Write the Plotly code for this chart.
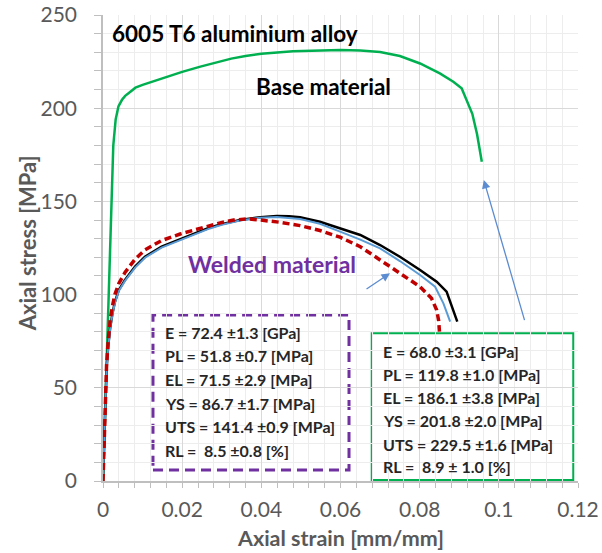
import plotly.graph_objects as go

# ---- data ----
base_strain = [0, 0.0005, 0.0010, 0.0014, 0.0018, 0.0022, 0.0026, 0.0032, 0.0039, 0.0048, 0.0056,
               0.0070, 0.0082, 0.0100, 0.0124, 0.0158, 0.0200, 0.0246, 0.0290, 0.0324, 0.0360,
               0.0400, 0.0480, 0.0540, 0.0600, 0.0650, 0.0700, 0.0750, 0.0801, 0.0851, 0.0885,
               0.0906, 0.0919, 0.0933, 0.0945, 0.0957]
base_stress = [0, 34, 68, 95, 128, 157, 180, 194, 201, 204.5, 206.6,
               209, 211, 212.5, 214.2, 216.5, 219.5, 222.3, 224.8, 226.6, 228,
               229.2, 230.6, 231.1, 231.2, 231, 230.2, 228, 224, 218.7, 214.2,
               210.7, 204.4, 197, 186, 171.3]

weld1_strain = [0, 0.0003, 0.0006, 0.0009, 0.0013, 0.0018, 0.0024, 0.0030, 0.0040, 0.0056, 0.0081,
                0.0106, 0.0148, 0.0190, 0.0232, 0.0270, 0.0300, 0.0346, 0.0397, 0.0439, 0.0470,
                0.0498, 0.0548, 0.0599, 0.0650, 0.0700, 0.0750, 0.0801, 0.0843, 0.0868, 0.0885, 0.0895]
weld1_stress = [0, 22, 43, 60, 72, 82, 90, 96, 102.5, 108, 115,
                120.3, 125.7, 129.3, 133, 136, 137.8, 140, 141.5, 142.2, 142,
                141.5, 139.1, 135.6, 132, 126.6, 120.3, 113.2, 106.9, 101.6, 91.7, 85.5]

weld2_strain = [0, 0.0003, 0.0006, 0.0009, 0.0013, 0.0018, 0.0024, 0.0030, 0.0040, 0.0056, 0.0081,
                0.0106, 0.0148, 0.0190, 0.0232, 0.0270, 0.0300, 0.0346, 0.0397, 0.0439,
                0.0498, 0.0548, 0.0599, 0.0650, 0.0700, 0.0750, 0.0801, 0.0839, 0.0860, 0.0877]
weld2_stress = [0, 22, 42.5, 59.5, 71.5, 81.5, 89.5, 95.5, 102, 107.5, 114.5,
                119.8, 125.2, 128.8, 132.5, 135.5, 137.5, 139.8, 141.2, 141.6,
                140.5, 138, 133.8, 129.5, 124.8, 118, 110.5, 104.2, 95.3, 85.5]

weld3_strain = [0, 0.0003, 0.0006, 0.0009, 0.0013, 0.0018, 0.0024, 0.0030, 0.0040, 0.0056, 0.0081,
                0.0106, 0.0148, 0.0195, 0.0245, 0.0296, 0.0330, 0.0366, 0.0397, 0.0447, 0.0498,
                0.0548, 0.0599, 0.0650, 0.0700, 0.0750, 0.0801, 0.0830, 0.0843, 0.0848, 0.0850]
weld3_stress = [0, 22, 44, 62, 75, 86, 94, 100, 106, 112, 119,
                124, 129, 132.5, 135.5, 138.5, 140, 140.6, 140, 138.8, 137,
                134.4, 130.8, 125.7, 118.6, 111.4, 104.2, 98, 91.7, 86, 80.1]

welded_props = ["E = 72.4 ±1.3 [GPa]", "PL = 51.8 ±0.7 [MPa]", "EL = 71.5 ±2.9 [MPa]",
                "YS = 86.7 ±1.7 [MPa]", "UTS = 141.4 ±0.9 [MPa]", "RL =\u00a0\u00a08.5 ±0.8 [%]"]
base_props = ["E = 68.0 ±3.1 [GPa]", "PL = 119.8 ±1.0 [MPa]", "EL = 186.1 ±3.8 [MPa]",
              "YS = 201.8 ±2.0 [MPa]", "UTS = 229.5 ±1.6 [MPa]", "RL =\u00a0\u00a08.9 ± 1.0 [%]"]

FONT = "Lato, 'Open Sans', sans-serif"
GRAY = "#595959"

fig = go.Figure()
fig.add_trace(go.Scatter(x=base_strain, y=base_stress, mode="lines",
                         line=dict(color="#00B050", width=2.5), showlegend=False))
fig.add_trace(go.Scatter(x=weld1_strain, y=weld1_stress, mode="lines",
                         line=dict(color="#000000", width=2.5), showlegend=False))
fig.add_trace(go.Scatter(x=weld2_strain, y=weld2_stress, mode="lines",
                         line=dict(color="#5B9BD5", width=2), showlegend=False))
fig.add_trace(go.Scatter(x=weld3_strain, y=weld3_stress, mode="lines",
                         line=dict(color="#C00000", width=3.5, dash="7px,4px"), showlegend=False))

# boxes
fig.add_shape(type="rect", xref="x", yref="y", x0=0.01263, x1=0.06215, y0=5.9, y1=89.1,
              line=dict(color="#7030A0", width=3, dash="10px,6px"), fillcolor="white", layer="below")
fig.add_shape(type="rect", xref="x", yref="y", x0=0.06789, x1=0.1188, y0=0.5, y1=79.2,
              line=dict(color="#00B050", width=2), fillcolor="white", layer="below")

anns = []
wy = [79.8, 67.2, 54.7, 41.7, 29.2, 16.6]
for t, yy in zip(welded_props, wy):
    anns.append(dict(x=0.01516, y=yy, xref="x", yref="y", text="<b>%s</b>" % t, showarrow=False,
                     xanchor="left", yanchor="middle", font=dict(family=FONT, size=16, color="#262626")))
by = [69.4, 57.2, 44.9, 32.3, 19.8, 7.7]
for t, yy in zip(base_props, by):
    anns.append(dict(x=0.07016, y=yy, xref="x", yref="y", text="<b>%s</b>" % t, showarrow=False,
                     xanchor="left", yanchor="middle", font=dict(family=FONT, size=16, color="#262626")))

anns.append(dict(x=0.03325, y=240.3, xref="x", yref="y", text="<b>6005 T6 aluminium alloy</b>",
                 showarrow=False, xanchor="center", yanchor="middle",
                 font=dict(family=FONT, size=22.5, color="#000000")))
anns.append(dict(x=0.05573, y=211.9, xref="x", yref="y", text="<b>Base material</b>",
                 showarrow=False, xanchor="center", yanchor="middle",
                 font=dict(family=FONT, size=22.5, color="#000000")))
anns.append(dict(x=0.04262, y=116.3, xref="x", yref="y", text="<b>Welded material</b>",
                 showarrow=False, xanchor="center", yanchor="middle",
                 font=dict(family=FONT, size=23, color="#7030A0")))

# axis titles
anns.append(dict(x=-0.159, y=0.511, xref="paper", yref="paper", text="<b>Axial stress [MPa]</b>",
                 textangle=-90, showarrow=False, xanchor="center", yanchor="middle",
                 font=dict(family=FONT, size=22, color=GRAY)))
anns.append(dict(x=0.499, y=-0.1223, xref="paper", yref="paper", text="<b>Axial strain [mm/mm]</b>",
                 showarrow=False, xanchor="center", yanchor="middle",
                 font=dict(family=FONT, size=21.5, color=GRAY)))

# arrows
anns.append(dict(x=0.0725, y=111.4, ax=0.0662, ay=102.5, xref="x", yref="y", axref="x", ayref="y",
                 text="", showarrow=True, arrowhead=2, arrowsize=1.3, arrowwidth=1.3, arrowcolor="#5B8BD0"))
anns.append(dict(x=0.0962, y=161.5, ax=0.1066, ay=85.5, xref="x", yref="y", axref="x", ayref="y",
                 text="", showarrow=True, arrowhead=2, arrowsize=1.3, arrowwidth=1.3, arrowcolor="#5B8BD0"))

fig.update_layout(
    width=602, height=553,
    margin=dict(l=103, r=24, t=15, b=72),
    paper_bgcolor="white", plot_bgcolor="white",
    font=dict(family=FONT, color=GRAY),
    annotations=anns,
    xaxis=dict(range=[0, 0.12], dtick=0.02, tick0=0, showgrid=True, gridcolor="#D9D9D9", gridwidth=1,
               zeroline=False, showline=True, linecolor="#BFBFBF", linewidth=1.5, automargin=False,
               ticks="outside", ticklen=5, tickcolor="#BFBFBF",
               minor=dict(dtick=0.004, showgrid=True, gridcolor="#EDEDED", ticks="outside",
                          ticklen=5, tickcolor="#BFBFBF"),
               tickfont=dict(family=FONT, size=21, color=GRAY), ticklabelstandoff=4),
    yaxis=dict(range=[0, 250], dtick=50, tick0=0, showgrid=True, gridcolor="#D9D9D9", gridwidth=1,
               zeroline=False, showline=True, linecolor="#BFBFBF", linewidth=1.5, automargin=False,
               ticks="outside", ticklen=7, tickcolor="#BFBFBF",
               minor=dict(dtick=10, showgrid=True, gridcolor="#EDEDED", ticks="outside",
                          ticklen=7, tickcolor="#BFBFBF"),
               tickfont=dict(family=FONT, size=21, color=GRAY), ticklabelstandoff=13),
)

fig.write_html("out.html", config={"displayModeBar": False},
               post_script="document.body.style.margin='0px';document.body.style.overflow='hidden';")
